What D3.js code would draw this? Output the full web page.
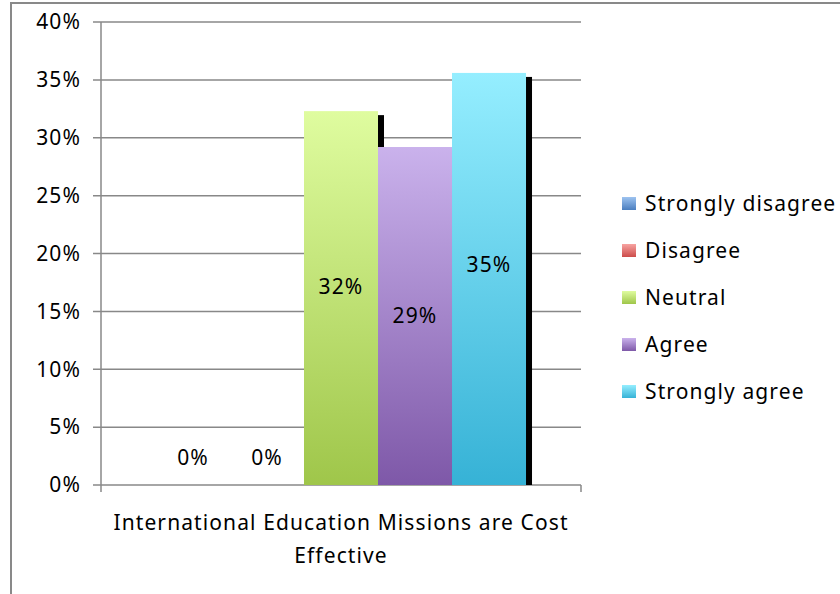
<!DOCTYPE html>
<html>
<head>
<meta charset="utf-8">
<script src="https://cdn.jsdelivr.net/npm/d3@7"></script>
<style>
  body { margin: 0; background: #fff; }
  svg text { font-family: "Noto Sans", sans-serif; fill: #000; font-size: 21px; letter-spacing: 1.1px; }
</style>
</head>
<body>
<svg id="chart" width="840" height="594"></svg>
<script>
// dados
const categoryLines = ["International Education Missions are Cost", "Effective"];
const series = ["Strongly disagree", "Disagree", "Neutral", "Agree", "Strongly agree"];
const values = [0, 0, 0.323, 0.292, 0.356];
const labels = ["0%", "0%", "32%", "29%", "35%"];
const yTicks = [0, 0.05, 0.10, 0.15, 0.20, 0.25, 0.30, 0.35, 0.40];

// cores (topo -> base do gradiente)
const colors = [
    ["#9dc3f0", "#4a7ebf"],
    ["#f7a3a1", "#cc4c4a"],
    ["#dffc9f", "#9fc64a"],
    ["#cab2ec", "#7e58a8"],
    ["#95eeff", "#36b2d6"]
];
// ajuste vertical dos rótulos (como no original)
const labelShift = [-27, -27, -11, 0, -14];

const svg = d3.select("#chart");
const margin = { left: 101, right: 259, top: 22, bottom: 109 };
const width = 840 - margin.left - margin.right;
const height = 594 - margin.top - margin.bottom;

// Moldura externa
svg.append("rect")
    .attr("x", 11).attr("y", 3)
    .attr("width", 900).attr("height", 700)
    .attr("fill", "none")
    .attr("stroke", "#898989")
    .attr("stroke-width", 2);

const defs = svg.append("defs");
colors.forEach((c, i) => {
    const grad = defs.append("linearGradient")
        .attr("id", "grad" + i)
        .attr("x1", "0%").attr("y1", "0%")
        .attr("x2", "0%").attr("y2", "100%");
    grad.append("stop").attr("offset", "0%").attr("stop-color", c[0]);
    grad.append("stop").attr("offset", "100%").attr("stop-color", c[1]);
});

const g = svg.append("g").attr("transform", `translate(${margin.left},${margin.top})`);

const y = d3.scaleLinear().domain([0, 0.4]).range([height, 0]);
const x = d3.scaleBand().domain(series).range([0, width]).paddingInner(0).paddingOuter(0.743);

// Linhas de grade
g.append("g")
    .selectAll("line")
    .data(yTicks)
    .enter()
    .append("line")
        .attr("x1", -8).attr("x2", width)
        .attr("y1", d => y(d)).attr("y2", d => y(d))
        .attr("stroke", "#888")
        .attr("stroke-width", 1.5);

const data = series.map((s, i) => ({ s, v: values[i], label: labels[i], i }));

// Sombras (cada barra seguinte cobre a sombra da anterior)
g.selectAll(".shadow")
    .data(data)
    .enter()
    .append("rect")
        .attr("class", "shadow")
        .attr("x", d => x(d.s) + 6)
        .attr("y", d => y(d.v) + 4)
        .attr("width", x.bandwidth())
        .attr("height", d => Math.max(0, height - y(d.v) - 4))
        .attr("fill", "#000");

// Barras
g.selectAll(".bar")
    .data(data)
    .enter()
    .append("rect")
        .attr("class", "bar")
        .attr("x", d => x(d.s))
        .attr("y", d => y(d.v))
        .attr("width", x.bandwidth())
        .attr("height", d => height - y(d.v))
        .attr("fill", d => `url(#grad${d.i})`);

// Eixos
g.append("line")
    .attr("x1", 0).attr("x2", 0)
    .attr("y1", 0).attr("y2", height + 7)
    .attr("stroke", "#888").attr("stroke-width", 1.5);
g.append("line")
    .attr("x1", width).attr("x2", width)
    .attr("y1", height).attr("y2", height + 7)
    .attr("stroke", "#888").attr("stroke-width", 1.5);

g.selectAll(".ytick")
    .data(yTicks)
    .enter()
    .append("text")
        .attr("class", "ytick")
        .attr("x", -20)
        .attr("y", d => y(d))
        .attr("dy", "0.35em")
        .attr("text-anchor", "end")
        .text(d => d3.format(".0%")(d));

// Rótulos de dados
g.selectAll(".dlabel")
    .data(data)
    .enter()
    .append("text")
        .attr("class", "dlabel")
        .attr("x", d => x(d.s) + x.bandwidth() / 2)
        .attr("y", d => (y(d.v) + height) / 2 + labelShift[d.i])
        .attr("dy", "0.35em")
        .attr("text-anchor", "middle")
        .text(d => d.label);

// Rótulo da categoria
const catText = g.append("text")
    .attr("x", width / 2)
    .attr("y", height + 45)
    .attr("text-anchor", "middle");
categoryLines.forEach((line, i) => {
    catText.append("tspan")
        .attr("x", width / 2)
        .attr("dy", i === 0 ? 0 : "1.57em")
        .text(line);
});

// Legenda
const legend = svg.append("g").attr("transform", "translate(622,204)");
series.forEach((s, i) => {
    const item = legend.append("g").attr("transform", `translate(0,${i * 47})`);
    item.append("rect")
        .attr("x", 0).attr("y", -7)
        .attr("width", 14).attr("height", 13)
        .attr("fill", `url(#grad${i})`);
    item.append("text")
        .attr("x", 23)
        .attr("y", 0)
        .attr("dy", "0.35em")
        .text(s);
});
</script>
</body>
</html>
